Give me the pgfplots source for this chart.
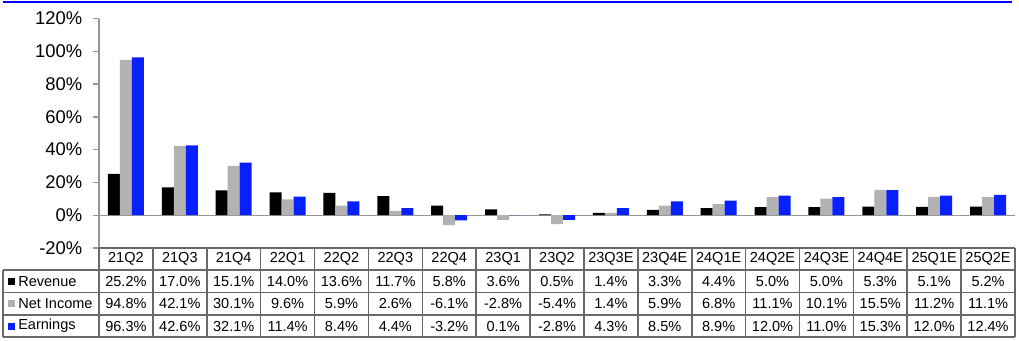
\documentclass[border=0pt]{standalone}
\usepackage{pgfplots}
\pgfplotsset{compat=1.18}
\usepackage{fontspec}
\setmainfont{Liberation Sans}
\definecolor{barblue}{RGB}{8,32,255}
\definecolor{bargray}{RGB}{178,178,178}
\definecolor{axgray}{RGB}{150,150,150}
\definecolor{tabgray}{RGB}{105,105,105}
\begin{document}
\begin{tikzpicture}
\path[use as bounding box] (0,0) rectangle (764.25pt,-255pt);
\draw[blue, line width=1.5pt] (2.25pt,-1.5pt) -- (759pt,-1.5pt);
\begin{axis}[
  at={(74.25pt,-186pt)}, anchor=south west, scale only axis,
  width=687pt, height=172.125pt,
  xmin=-0.5, xmax=16.5, ymin=-20, ymax=120,
  axis x line=none, axis y line*=left,
  y axis line style={draw=axgray, line width=1pt, -},
  ytick={-20,0,20,40,60,80,100,120},
  yticklabels={-20\%,0\%,20\%,40\%,60\%,80\%,100\%,120\%},
  tick style={draw=axgray, line width=1pt}, tick align=outside, major tick length=4.5pt,
  yticklabel style={font=\fontsize{13.8}{15}\selectfont, anchor=east, xshift=-4.5pt},
  ybar=0pt, bar width=9pt,
  clip=false,
]
\draw[axgray, line width=1pt] (axis cs:-0.5,0) -- (axis cs:16.5,0);
\addplot[fill=black, draw=none] coordinates {(0,25.2) (1,17.0) (2,15.1) (3,14.0) (4,13.6) (5,11.7) (6,5.8) (7,3.6) (8,0.5) (9,1.4) (10,3.3) (11,4.4) (12,5.0) (13,5.0) (14,5.3) (15,5.1) (16,5.2)};
\addplot[fill=bargray, draw=none] coordinates {(0,94.8) (1,42.1) (2,30.1) (3,9.6) (4,5.9) (5,2.6) (6,-6.1) (7,-2.8) (8,-5.4) (9,1.4) (10,5.9) (11,6.8) (12,11.1) (13,10.1) (14,15.5) (15,11.2) (16,11.1)};
\addplot[fill=barblue, draw=none] coordinates {(0,96.3) (1,42.6) (2,32.1) (3,11.4) (4,8.4) (5,4.4) (6,-3.2) (7,0.1) (8,-2.8) (9,4.3) (10,8.5) (11,8.9) (12,12.0) (13,11.0) (14,15.3) (15,12.0) (16,12.4)};
\end{axis}
\begin{scope}[x=0.75pt, y=-0.75pt, font=\fontsize{10.9}{12}\selectfont]
  \draw[tabgray, line width=1.2pt] (99,248) -- (1015,248);
  \foreach \yy in {270,292.5,315,337} \draw[tabgray, line width=1.2pt] (3,\yy) -- (1015,\yy);
  \draw[tabgray, line width=1.2pt] (3,270) -- (3,337);
  \foreach \k in {0,...,17} \draw[tabgray, line width=1.2pt] ({99+53.882*\k},248) -- ({99+53.882*\k},337);
  \foreach \h [count=\i from 0] in {21Q2,21Q3,21Q4,22Q1,22Q2,22Q3,22Q4,23Q1,23Q2,23Q3E,23Q4E,24Q1E,24Q2E,24Q3E,24Q4E,25Q1E,25Q2E}
    \node at ({99+53.882*(\i+0.5)},259) {\h};
  \foreach \v [count=\i from 0] in {25.2,17.0,15.1,14.0,13.6,11.7,5.8,3.6,0.5,1.4,3.3,4.4,5.0,5.0,5.3,5.1,5.2}
    \node at ({99+53.882*(\i+0.5)},281.2) {\v\%};
  \foreach \v [count=\i from 0] in {94.8,42.1,30.1,9.6,5.9,2.6,-6.1,-2.8,-5.4,1.4,5.9,6.8,11.1,10.1,15.5,11.2,11.1}
    \node at ({99+53.882*(\i+0.5)},303.7) {\v\%};
  \foreach \v [count=\i from 0] in {96.3,42.6,32.1,11.4,8.4,4.4,-3.2,0.1,-2.8,4.3,8.5,8.9,12.0,11.0,15.3,12.0,12.4}
    \node at ({99+53.882*(\i+0.5)},326) {\v\%};
  \fill[black] (8,277.5) rectangle (15,284.5);
  \fill[bargray] (8,300) rectangle (15,307);
  \fill[barblue] (8,322.5) rectangle (15,329.5);
  \node[anchor=west, inner sep=0pt] at (18,281.2) {Revenue};
  \node[anchor=west, inner sep=0pt] at (18,303.7) {Net Income};
  \node[anchor=west, inner sep=0pt] at (18,326) {Earnings};
\end{scope}
\end{tikzpicture}
\end{document}
